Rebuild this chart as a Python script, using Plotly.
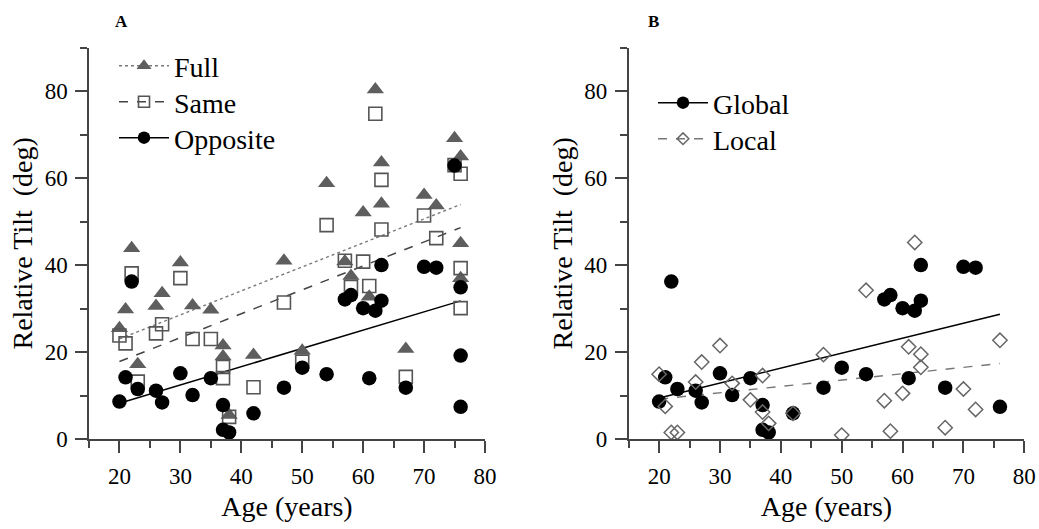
import numpy as np
import plotly.graph_objects as go

# ---------------- data ----------------
ages_a = [20, 21, 22, 23, 26, 27, 30, 32, 35, 37, 37, 38, 42, 47, 50, 54, 57, 58,
          60, 61, 62, 63, 63, 67, 70, 72, 75, 76, 76, 76]
full = [25.5, 29.8, 43.9, 17.2, 30.6, 33.5, 40.6, 30.7, 29.7, 21.5, 19.0, 5.5,
        19.3, 41.0, 20.3, 58.8, 40.8, 37.5, 52.1, 32.7, 80.4, 63.6, 54.1, 20.7,
        56.1, 53.7, 69.2, 65.0, 45.0, 37.0]
same = [23.8, 22.0, 38.1, 13.2, 24.3, 26.4, 37.0, 23.0, 23.0, 16.6, 14.0, 5.1,
        11.9, 31.4, 17.8, 49.2, 41.0, 35.0, 40.8, 35.2, 74.8, 59.6, 48.2, 14.3,
        51.4, 46.2, 63.0, 61.0, 39.3, 30.1]
opposite = [8.6, 14.2, 36.2, 11.5, 11.1, 8.4, 15.1, 10.1, 14.0, 7.8, 2.1, 1.5,
            5.9, 11.8, 16.4, 14.9, 32.1, 33.1, 30.1, 14.0, 29.5, 31.8, 40.0, 11.8,
            39.6, 39.4, 62.9, 34.9, 19.2, 7.4]

ages_b = [20, 21, 22, 23, 26, 27, 30, 32, 35, 37, 37, 38, 42, 47, 50, 54, 57, 58,
          60, 61, 62, 63, 63, 67, 70, 72, 76]
global_ = [8.6, 14.2, 36.2, 11.5, 11.1, 8.4, 15.1, 10.1, 14.0, 7.8, 2.1, 1.5,
           5.9, 11.8, 16.4, 14.9, 32.1, 33.1, 30.1, 14.0, 29.5, 31.8, 40.0, 11.8,
           39.6, 39.4, 7.4]
local = [14.9, 7.5, 1.5, 1.5, 13.1, 17.7, 21.5, 12.8, 9.0, 14.6, 6.2, 3.6,
         5.9, 19.4, 0.9, 34.2, 8.8, 1.8, 10.5, 21.2, 45.2, 19.5, 16.5, 2.6,
         11.5, 6.8, 22.7]

x_ticks = [20, 30, 40, 50, 60, 70, 80]
y_ticks = [0, 20, 40, 60, 80]

FONT = "'Liberation Serif', 'Times New Roman', Times, 'DejaVu Serif', serif"
W, H = 1039, 529


def fit(x, y):
    x = np.asarray(x, float)
    m, b = np.polyfit(x, np.asarray(y, float), 1)
    xs = np.array([x.min(), x.max()])
    return xs, m * xs + b


fig = go.Figure()

TRI = dict(symbol="triangle-up", size=15, color="#5e5e5e", line=dict(width=0))
SQ = dict(symbol="square-open", size=13, color="#555555", line=dict(width=1.6))
CIR = dict(symbol="circle", size=14.5, color="black", line=dict(width=0))
DIA = dict(symbol="diamond-open", size=11, color="#666666", line=dict(width=1.5))

legend_common = dict(
    font=dict(family=FONT, size=28, color="black"), bgcolor="rgba(0,0,0,0)",
    xanchor="left", yanchor="top", tracegroupgap=0, itemwidth=50,
)
legends = {}

# Panel A
series_a = [
    ("Full", full, TRI, dict(color="#7a7a7a", width=1.4, dash="dot"), "legend", 41),
    ("Same", same, SQ, dict(color="#444444", width=1.5, dash="dash"), "legend2", 77),
    ("Opposite", opposite, CIR, dict(color="black", width=1.5), "legend3", 113),
]
for name, vals, mk, ln, lg, ly in series_a:
    xs, ys = fit(ages_a, vals)
    fig.add_trace(go.Scatter(x=xs, y=ys, mode="lines", line=ln, showlegend=False,
                             xaxis="x", yaxis="y", hoverinfo="skip"))
for name, vals, mk, ln, lg, ly in series_a:
    fig.add_trace(go.Scatter(x=ages_a, y=vals, mode="markers", marker=mk,
                             showlegend=False, xaxis="x", yaxis="y"))
for name, vals, mk, ln, lg, ly in series_a:
    lmk = dict(mk)
    lmk["size"] = mk["size"] - 2
    fig.add_trace(go.Scatter(x=[None], y=[None], mode="lines+markers", name=name,
                             marker=lmk, line=ln, legend=lg,
                             xaxis="x", yaxis="y"))
    legends[lg] = dict(x=114 / W, y=1 - ly / H, **legend_common)

# Panel B
series_b = [
    ("Global", global_, CIR, dict(color="black", width=1.5), "legend4", 78),
    ("Local", local, DIA, dict(color="#777777", width=1.4, dash="dash"), "legend5", 114),
]
for name, vals, mk, ln, lg, ly in series_b:
    xs, ys = fit(ages_b, vals)
    fig.add_trace(go.Scatter(x=xs, y=ys, mode="lines", line=ln, showlegend=False,
                             xaxis="x2", yaxis="y2", hoverinfo="skip"))
for name, vals, mk, ln, lg, ly in series_b:
    fig.add_trace(go.Scatter(x=ages_b, y=vals, mode="markers", marker=mk,
                             showlegend=False, xaxis="x2", yaxis="y2"))
for name, vals, mk, ln, lg, ly in series_b:
    lmk = dict(mk)
    lmk["size"] = mk["size"] - 2
    fig.add_trace(go.Scatter(x=[None], y=[None], mode="lines+markers", name=name,
                             marker=lmk, line=ln, legend=lg,
                             xaxis="x2", yaxis="y2"))
    legends[lg] = dict(x=653 / W, y=1 - ly / H, **legend_common)

xaxis_common = dict(
    range=[15, 80], tickvals=x_ticks, ticks="outside", ticklen=12, tickwidth=1.5,
    tickcolor="#444444", showline=True, linecolor="#444444", linewidth=1.5,
    showgrid=False, zeroline=False, ticklabelstandoff=4, automargin=False,
    ticklabeloverflow="allow",
    minor=dict(dtick=5, tick0=15, ticks="outside", ticklen=7, tickwidth=1.5,
               tickcolor="#444444", showgrid=False),
    tickfont=dict(family=FONT, size=23, color="black"),
    title=dict(text="Age (years)", font=dict(family=FONT, size=28, color="black"),
               standoff=8),
    fixedrange=True,
)
yaxis_common = dict(
    range=[0, 90], tickvals=y_ticks, ticks="outside", ticklen=12, tickwidth=1.5,
    tickcolor="#444444", showline=True, linecolor="#444444", linewidth=1.5,
    showgrid=False, zeroline=False, ticklabelstandoff=3, automargin=False,
    ticklabeloverflow="allow",
    minor=dict(dtick=10, tick0=0, ticks="outside", ticklen=7, tickwidth=1.5,
               tickcolor="#444444", showgrid=False),
    tickfont=dict(family=FONT, size=23, color="black"),
    title=dict(text="Relative Tilt  (deg)", font=dict(family=FONT, size=28, color="black"),
               standoff=4),
    fixedrange=True,
)

fig.update_layout(
    width=W, height=H, margin=dict(l=0, r=0, t=0, b=0, autoexpand=False),
    paper_bgcolor="white", plot_bgcolor="white",
    font=dict(family=FONT, color="black"),
    xaxis=dict(domain=[89 / W, 485 / W], anchor="y", **xaxis_common),
    yaxis=dict(domain=[(H - 439) / H, (H - 47.7) / H], anchor="x", **yaxis_common),
    xaxis2=dict(domain=[628.7 / W, 1024.3 / W], anchor="y2", **xaxis_common),
    yaxis2=dict(domain=[(H - 439) / H, (H - 47.7) / H], anchor="x2", **yaxis_common),
    annotations=[
        dict(text="<b>A</b>", x=121 / W, y=1 - 22 / H, xref="paper", yref="paper",
             xanchor="center", yanchor="middle",
             showarrow=False, font=dict(family=FONT, size=17, color="black")),
        dict(text="<b>B</b>", x=653 / W, y=1 - 21 / H, xref="paper", yref="paper",
             xanchor="center", yanchor="middle",
             showarrow=False, font=dict(family=FONT, size=17, color="black")),
    ],
    showlegend=True,
    hovermode=False,
    **legends,
)

fig.write_html(
    "out.html",
    config={"displayModeBar": False, "staticPlot": False},
    post_script="document.body.style.margin='0';document.body.style.overflow='hidden';",
)
